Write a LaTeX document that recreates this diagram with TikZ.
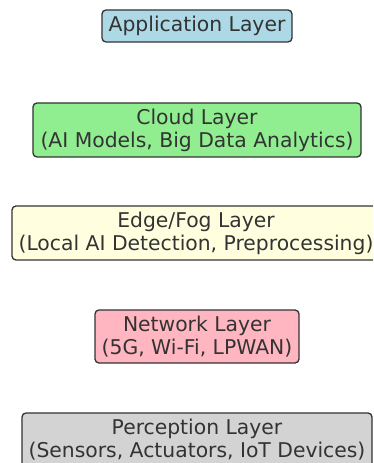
\documentclass[tikz,border=0pt]{standalone}
\usepackage{fontspec}
\setmainfont{DejaVu Sans}
\usepackage{xcolor}
\usetikzlibrary{positioning}

\definecolor{appblue}{HTML}{ADD8E6}
\definecolor{cloudgreen}{HTML}{90EE90}
\definecolor{edgeyellow}{HTML}{FFFFE0}
\definecolor{netpink}{HTML}{FFB6C1}
\definecolor{percgray}{HTML}{D3D3D3}

\tikzset{
  layer/.style={draw=black!80, line width=1.3pt, rounded corners=4pt,
    align=center, text=black!80, inner sep=0pt,
    font=\fontsize{20.4}{23}\selectfont}
}

\begin{document}
\begin{tikzpicture}[x=1bp, y=-1bp]

\useasboundingbox (0,0) rectangle (373,463);
\clip (0,0) rectangle (373,463);

% Layers, top to bottom
\node[layer, fill=appblue, minimum width=190bp, minimum height=32bp] (app) at (197, 26) {Application Layer};
\node[layer, fill=cloudgreen, minimum width=328bp, minimum height=54bp] (cloud) at (197, 130) {Cloud Layer\\(AI Models, Big Data Analytics)};
\node[layer, fill=edgeyellow, minimum width=368bp, minimum height=54bp] (edge) at (196, 233) {Edge/Fog Layer\\(Local AI Detection, Preprocessing)};
\node[layer, fill=netpink, minimum width=204bp, minimum height=53bp] (net) at (197, 336.5) {Network Layer\\(5G, Wi-Fi, LPWAN)};
\node[layer, fill=percgray, minimum width=350bp, minimum height=54bp] (perc) at (197, 440) {Perception Layer\\(Sensors, Actuators, IoT Devices)};

\end{tikzpicture}
\end{document}
